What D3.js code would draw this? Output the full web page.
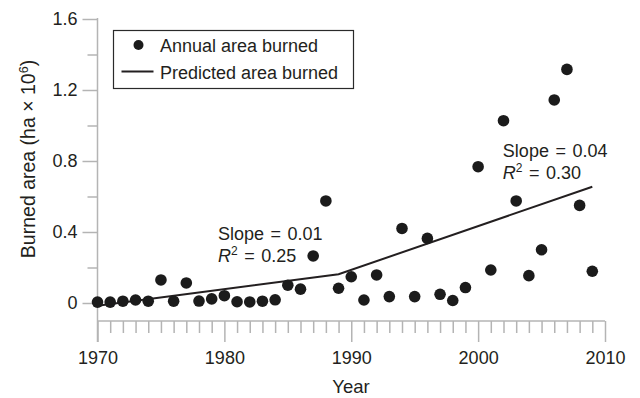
<!DOCTYPE html>
<html>
<head>
<meta charset="utf-8">
<script src="https://cdn.jsdelivr.net/npm/d3@7"></script>
<style>
  html, body { margin: 0; padding: 0; background: #fff; }
  svg { display: block; font-family: "Liberation Sans", Arial, Helvetica, sans-serif; }
  text { fill: #231f20; }
</style>
</head>
<body>
<svg id="chart" width="640" height="398"></svg>
<script>
// ---- data ----
const years = [1970,1971,1972,1973,1974,1975,1976,1977,1978,1979,
               1980,1981,1982,1983,1984,1985,1986,1987,1988,1989,
               1990,1991,1992,1993,1994,1995,1996,1997,1998,1999,
               2000,2001,2002,2003,2004,2005,2006,2007,2008,2009];
const areaBurned = [0.005,0.005,0.010,0.017,0.010,0.130,0.010,0.113,0.011,0.023,
                    0.041,0.007,0.006,0.010,0.018,0.100,0.078,0.265,0.575,0.083,
                    0.148,0.017,0.158,0.036,0.420,0.036,0.364,0.049,0.014,0.087,
                    0.768,0.186,1.027,0.575,0.154,0.300,1.144,1.316,0.550,0.179];
const predYears = [1970, 1989, 2009];
const predValues = [-0.015, 0.162, 0.655];
const yMajorTicks = [0, 0.4, 0.8, 1.2, 1.6];
const yMinorTicks = [0.2, 0.6, 1.0, 1.4];
const xMajorTicks = [1970, 1980, 1990, 2000, 2010];
const xMinorTicks = d3.range(1971, 2010).filter(d => d % 10 !== 0);
const legendLabels = ["Annual area burned", "Predicted area burned"];
const annotations = [
  {year: 1979.5, value: 0.355, slope: "0.01", r2: "0.25"},
  {year: 2001.95, value: 0.82, slope: "0.04", r2: "0.30"}
];

// ---- layout ----
const svg = d3.select("#chart");
const x = d3.scaleLinear().domain([1970, 2010]).range([97.5, 605]);
const y = d3.scaleLinear().domain([0, 1.6]).range([303, 19]);
const xAxisY = 321;
const axisColor = "#b4b4b4";
const ink = "#231f20";

// y axis
const gy = svg.append("g").attr("transform", `translate(${x(1970)},0)`);
gy.call(d3.axisLeft(y).tickValues(yMajorTicks).tickSize(15).tickPadding(5)
  .tickFormat(d => d === 0 ? "0" : d3.format(".1f")(d)));
gy.append("g").call(d3.axisLeft(y).tickValues(yMinorTicks).tickSize(10).tickFormat(""));
gy.selectAll(".domain").remove();
gy.selectAll("line").attr("stroke", axisColor).attr("stroke-width", 1.5);
gy.selectAll("text").attr("font-size", 18).attr("fill", ink)
  .attr("font-family", "'Liberation Sans', Arial, sans-serif");
gy.append("line").attr("x1", 0).attr("x2", 0)
  .attr("y1", y(1.6) - 1).attr("y2", xAxisY + 21)
  .attr("stroke", axisColor).attr("stroke-width", 1.5);

// x axis
const gx = svg.append("g").attr("transform", `translate(0,${xAxisY})`);
gx.call(d3.axisBottom(x).tickValues(xMajorTicks).tickSize(21).tickPadding(9)
  .tickFormat(d3.format("d")));
gx.append("g").call(d3.axisBottom(x).tickValues(xMinorTicks).tickSize(12).tickFormat(""));
gx.selectAll(".domain").remove();
gx.selectAll("line").attr("stroke", axisColor).attr("stroke-width", 1.5);
gx.selectAll("text").attr("font-size", 18).attr("fill", ink)
  .attr("font-family", "'Liberation Sans', Arial, sans-serif");
gx.append("line").attr("x1", x(1970)).attr("x2", x(2010)).attr("y1", 0).attr("y2", 0)
  .attr("stroke", axisColor).attr("stroke-width", 1.5);

// axis titles
svg.append("text").attr("x", 351).attr("y", 393).attr("text-anchor", "middle")
  .attr("font-size", 18.5).text("Year");
const yl = svg.append("text").attr("transform", "translate(35,159) rotate(-90)")
  .attr("text-anchor", "middle").attr("font-size", 19.5);
yl.append("tspan").text("Burned area (ha \u00D7 10");
yl.append("tspan").attr("dy", -7).attr("font-size", 12.5).text("6");
yl.append("tspan").attr("dy", 7).text(")");

// predicted line
const pred = predYears.map((d, i) => [d, predValues[i]]);
svg.append("path").datum(pred)
  .attr("d", d3.line().x(d => x(d[0])).y(d => y(d[1])))
  .attr("fill", "none").attr("stroke", ink).attr("stroke-width", 2);

// points
svg.append("g").selectAll("circle").data(years.map((d, i) => [d, areaBurned[i]]))
  .join("circle")
  .attr("cx", d => x(d[0])).attr("cy", d => y(d[1])).attr("r", 5.8)
  .attr("fill", "#1b1b1b");

// annotations
annotations.forEach(a => {
  const ax = x(a.year), ay = y(a.value);
  svg.append("text").attr("x", ax).attr("y", ay).attr("font-size", 18)
    .attr("word-spacing", 1.5).text("Slope = " + a.slope);
  const t = svg.append("text").attr("x", ax).attr("y", ay + 22).attr("font-size", 18)
    .attr("word-spacing", 1.5);
  t.append("tspan").attr("font-style", "italic").text("R");
  t.append("tspan").attr("dy", -7).attr("font-size", 12).text("2");
  t.append("tspan").attr("dy", 7).text(" = " + a.r2);
});

// legend
const lg = svg.append("g");
lg.append("rect").attr("x", 113.5).attr("y", 30.5).attr("width", 240).attr("height", 58)
  .attr("fill", "#fff").attr("stroke", "#2a2a2a").attr("stroke-width", 1.2);
lg.append("circle").attr("cx", 138.5).attr("cy", 45).attr("r", 5).attr("fill", "#1b1b1b");
lg.append("line").attr("x1", 121.5).attr("x2", 153.5).attr("y1", 71.5).attr("y2", 71.5)
  .attr("stroke", ink).attr("stroke-width", 2);
lg.append("text").attr("x", 160).attr("y", 52).attr("font-size", 18).text(legendLabels[0]);
lg.append("text").attr("x", 160).attr("y", 78.5).attr("font-size", 18).text(legendLabels[1]);
</script>
</body>
</html>
